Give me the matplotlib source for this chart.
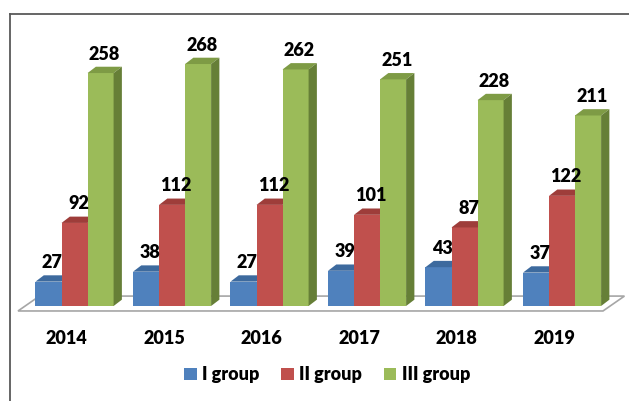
import matplotlib.pyplot as plt
from matplotlib.patches import Polygon, Patch
from matplotlib.lines import Line2D

plt.rcParams['font.family'] = ['Lato', 'DejaVu Sans']
plt.rcParams['font.weight'] = 'bold'

# data
years = ['2014', '2015', '2016', '2017', '2018', '2019']
group1 = [27, 38, 27, 39, 43, 37]
group2 = [92, 112, 112, 101, 87, 122]
group3 = [258, 268, 262, 251, 228, 211]
series_names = ['I group', 'II group', 'III group']

# colours: front, top, side
front = ['#4F81BD', '#C0504D', '#9BBB59']
top = ['#3D6A9E', '#9E3D3A', '#7E9B45']
side = ['#2F5480', '#7E2F2D', '#667F37']

w = 0.267       # bar width (category units)
shift = 0.08    # bars sit in the middle of the floor depth
dx, dy = 0.085, 7.0   # bar depth offset
fdx = 0.22            # floor depth offset

fig = plt.figure(figsize=(6.29, 4.01), dpi=100)
ax = fig.add_axes([0, 0, 1, 1])
ax.set_xlim(-0.6846, 5.7667)
ax.set_ylim(-105.2, 338.9)
ax.axis('off')

# floor
n = len(years)
floor = Polygon([(-0.5, -5.5), (n - 0.5, -5.5), (n - 0.5 + fdx, 11), (-0.5 + fdx, 11)],
                closed=True, facecolor='white', edgecolor='#A6A6A6', lw=1.2, zorder=1)
ax.add_patch(floor)

data = [group1, group2, group3]
for k, vals in enumerate(data):
    for i, v in enumerate(vals):
        xc = i + shift + (k - 1) * w
        x0, x1 = xc - w / 2, xc + w / 2
        z = 2 + i * 3 + k
        ax.bar(xc, v, width=w, color=front[k], zorder=z, linewidth=0)
        ax.add_patch(Polygon([(x0, v), (x1, v), (x1 + dx, v + dy), (x0 + dx, v + dy)],
                             closed=True, facecolor=top[k], lw=0, zorder=z))
        if k == 2:
            ax.add_patch(Polygon([(x1, 0), (x1 + dx, dy), (x1 + dx, v + dy), (x1, v)],
                                 closed=True, facecolor=side[k], lw=0, zorder=z))
        ax.text(xc + 0.04, v + 21, str(v), ha='center', va='center',
                fontsize=13, fontweight='heavy', color='black', zorder=30)

for i, y in enumerate(years):
    ax.text(i, -35.5, y, ha='center', va='center', fontsize=13, fontweight='heavy')

handles = [Patch(facecolor=c, edgecolor='none') for c in front]
fig.legend(handles, series_names, loc='center', bbox_to_anchor=(0.52, 0.065), ncol=3,
           frameon=False, handlelength=0.7, handleheight=0.7, handletextpad=0.3,
           columnspacing=1.2, prop={'size': 13, 'weight': 'heavy'})

# chart frame (left and top edges visible)
fig.add_artist(Line2D([10 / 629, 10 / 629], [0, 1 - 14 / 401], color='#595959', lw=1.3))
fig.add_artist(Line2D([10 / 629, 1], [1 - 14 / 401, 1 - 14 / 401], color='#595959', lw=1.3))

fig.savefig('out.png', dpi=100)
